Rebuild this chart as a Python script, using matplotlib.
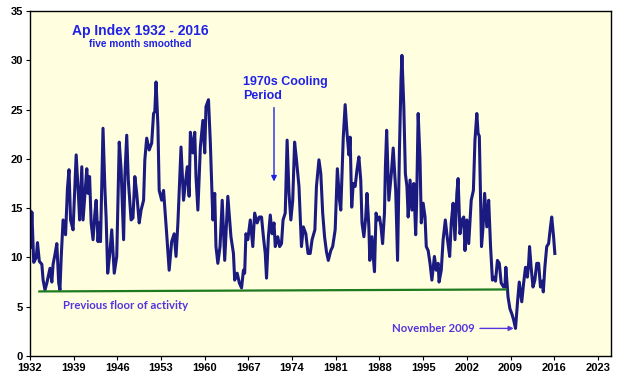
import matplotlib
matplotlib.use("Agg")
import matplotlib.pyplot as plt

# ---- data (year, Ap index five-month smoothed) ----
years = [
    1932.0, 1932.1, 1932.3, 1932.6, 1933.0, 1933.2, 1933.5, 1933.9, 1934.1, 1934.4,
    1934.7, 1935.2, 1935.5, 1935.7, 1936.0, 1936.3, 1936.6, 1936.8, 1937.0, 1937.3,
    1937.7, 1938.0, 1938.25, 1938.5, 1938.9, 1939.4, 1939.8, 1939.95, 1940.3, 1940.5,
    1941.1, 1941.3, 1941.55, 1941.8, 1942.1, 1942.4, 1942.6, 1942.9, 1943.1, 1943.3,
    1943.7, 1944.0, 1944.2, 1944.45, 1944.8, 1945.1, 1945.5, 1945.9, 1946.3, 1946.6,
    1947.0, 1947.2, 1947.5, 1947.75, 1948.2, 1948.5, 1948.8, 1949.1, 1949.5, 1949.8,
    1950.2, 1950.4, 1950.7, 1951.1, 1951.5, 1951.8, 1952.0, 1952.2, 1952.5, 1952.7,
    1953.1, 1953.4, 1953.9, 1954.3, 1954.7, 1955.1, 1955.4, 1955.7, 1956.2, 1956.6,
    1957.2, 1957.5, 1957.7, 1958.1, 1958.4, 1958.6, 1958.9, 1959.3, 1959.7, 1960.0,
    1960.2, 1960.6, 1960.9, 1961.3, 1961.6, 1961.8, 1962.1, 1962.45, 1962.8, 1963.2,
    1963.7, 1964.2, 1964.6, 1964.8, 1965.2, 1965.55, 1965.9, 1966.2, 1966.4, 1966.6,
    1966.9, 1967.3, 1967.7, 1968.0, 1968.4, 1968.75, 1969.1, 1969.4, 1969.7, 1969.9,
    1970.2, 1970.5, 1970.8, 1971.1, 1971.3, 1971.7, 1972.0, 1972.3, 1972.55, 1972.9,
    1973.2, 1973.5, 1973.8, 1974.1, 1974.4, 1974.7, 1975.1, 1975.5, 1975.8, 1976.2,
    1976.55, 1976.9, 1977.2, 1977.65, 1977.9, 1978.3, 1978.6, 1978.9, 1979.2, 1979.5,
    1979.8, 1980.2, 1980.5, 1980.9, 1981.25, 1981.6, 1981.8, 1982.2, 1982.5, 1982.8,
    1983.1, 1983.3, 1983.55, 1983.8, 1984.1, 1984.4, 1984.7, 1985.0, 1985.2, 1985.5,
    1985.8, 1986.0, 1986.3, 1986.45, 1986.8, 1987.0, 1987.2, 1987.45, 1987.7, 1988.0,
    1988.25, 1988.5, 1988.8, 1988.95, 1989.15, 1989.5, 1989.9, 1990.2, 1990.6, 1990.9,
    1991.2, 1991.45, 1991.6, 1991.9, 1992.15, 1992.4, 1992.6, 1992.9, 1993.2, 1993.5,
    1993.8, 1993.95, 1994.2, 1994.5, 1994.7, 1995.0, 1995.3, 1995.5, 1995.8, 1996.1,
    1996.4, 1996.8, 1997.1, 1997.4, 1997.55, 1997.9, 1998.2, 1998.55, 1998.9, 1999.25,
    1999.5, 1999.8, 2000.1, 2000.4, 2000.6, 2000.9, 2001.2, 2001.5, 2001.7, 2002.0,
    2002.3, 2002.7, 2003.05, 2003.3, 2003.6, 2003.8, 2004.0, 2004.2, 2004.35, 2004.6,
    2004.85, 2005.2, 2005.5, 2005.8, 2006.1, 2006.4, 2006.6, 2006.9, 2007.2, 2007.5,
    2007.9, 2008.1, 2008.25, 2008.6, 2008.9, 2009.2, 2009.5, 2009.8, 2010.15, 2010.4,
    2010.8, 2011.1, 2011.4, 2011.7, 2011.9, 2012.05, 2012.3, 2012.6, 2012.9, 2013.2,
    2013.5, 2013.8, 2014.1, 2014.25, 2014.5, 2014.8, 2015.1, 2015.4, 2015.6, 2015.9,
    2016.1,
]
ap_index = [
    14.7, 11.0, 14.6, 9.5, 10.0, 11.5, 9.6, 9.3, 7.7, 6.7,
    7.4, 8.9, 7.5, 9.3, 10.3, 11.4, 7.4, 6.7, 10.0, 13.8,
    12.3, 17.0, 18.9, 13.8, 12.8, 20.4, 15.8, 13.8, 19.2, 13.8,
    19.0, 16.5, 18.2, 13.5, 11.8, 14.5, 15.8, 11.6, 13.5, 11.6,
    23.1, 17.0, 14.0, 8.4, 10.5, 12.8, 8.4, 10.1, 21.7, 18.9,
    11.8, 18.2, 22.4, 17.85, 13.8, 14.0, 18.2, 16.5, 13.5, 14.8,
    15.8, 19.9, 22.1, 20.9, 21.6, 24.6, 24.8, 27.8, 23.3, 16.8,
    15.8, 16.8, 12.4, 8.7, 11.6, 12.4, 10.1, 13.5, 21.2, 15.8,
    19.2, 16.2, 22.7, 20.6, 22.7, 18.2, 14.8, 21.2, 23.9, 20.6,
    25.3, 26.0, 21.6, 13.8, 16.5, 11.1, 9.4, 11.1, 15.8, 9.7,
    16.2, 12.1, 10.4, 7.7, 8.4, 7.4, 6.9, 8.7, 8.4, 12.4,
    11.8, 13.8, 11.1, 14.5, 13.5, 14.1, 14.1, 12.1, 10.4, 7.9,
    12.1, 14.3, 12.4, 13.5, 11.1, 12.1, 11.1, 11.4, 13.8, 14.5,
    21.9, 16.5, 13.8, 15.8, 21.7, 19.9, 17.2, 11.1, 13.1, 12.4,
    10.4, 10.4, 11.8, 12.8, 17.2, 19.9, 18.5, 14.5, 12.1, 10.6,
    9.7, 10.7, 11.1, 12.8, 19.0, 15.8, 14.8, 22.2, 25.5, 22.6,
    20.4, 22.2, 15.1, 17.5, 17.2, 18.9, 20.2, 17.85, 13.5, 12.1,
    14.1, 16.5, 13.1, 9.7, 12.1, 10.1, 8.55, 14.5, 13.8, 14.1,
    13.1, 11.4, 14.5, 19.2, 22.9, 15.8, 18.5, 21.1, 16.8, 9.7,
    20.9, 28.0, 30.5, 25.3, 18.5, 17.2, 14.1, 17.85, 14.8, 17.5,
    12.3, 15.5, 24.6, 19.9, 13.5, 15.5, 14.1, 11.1, 10.7, 9.4,
    7.7, 10.1, 8.7, 9.4, 7.5, 8.7, 11.8, 13.8, 11.8, 10.1,
    13.5, 15.5, 11.8, 16.5, 18.0, 12.4, 13.8, 14.1, 10.7, 13.8,
    11.4, 15.8, 16.8, 21.9, 24.6, 22.6, 22.3, 15.8, 11.1, 13.1,
    16.5, 13.1, 15.8, 11.1, 7.7, 8.0, 7.6, 9.7, 9.4, 7.4,
    7.0, 7.0, 9.0, 6.0, 4.8, 4.3, 3.65, 2.8, 5.7, 7.5,
    5.5, 7.4, 9.0, 8.0, 9.4, 11.1, 9.0, 7.0, 7.7, 9.4,
    9.4, 7.0, 7.6, 6.5, 9.0, 11.1, 11.4, 13.1, 14.1, 12.1,
    10.4,
]

floor_years = [1933.5, 2008.3]
floor_values = [6.55, 6.75]

x_ticks = [1932, 1939, 1946, 1953, 1960, 1967, 1974, 1981, 1988, 1995, 2002, 2009, 2016, 2023]
y_ticks = [0, 5, 10, 15, 20, 25, 30, 35]

# ---- figure ----
fig = plt.figure(figsize=(6.25, 3.83), dpi=100)
ax = fig.add_axes([0.048, 0.0705, 0.9296, 0.9008])
ax.set_facecolor("#FFFFE0")

ax.plot(years, ap_index, color="#1A1A80", lw=2.2, solid_joinstyle="round")
ax.plot(floor_years, floor_values, color="#1E7A1E", lw=1.6)

ax.set_xlim(1932, 2025.1)
ax.set_ylim(0, 35)
ax.set_xticks(x_ticks)
ax.set_yticks(y_ticks)
tick_font = dict(family="Liberation Sans", weight="bold", size=8)
ax.set_xticklabels([str(t) for t in x_ticks], fontdict=tick_font)
ax.set_yticklabels([str(t) for t in y_ticks], fontdict=tick_font)
ax.tick_params(direction="out", length=3, width=0.8, pad=2)
for s in ax.spines.values():
    s.set_linewidth(1.0)
    s.set_color("black")

blue = "#2121E6"
purple = "#5533DD"
ax.text(1949.6, 33.0, "Ap Index 1932 - 2016", ha="center", va="center",
        family="Liberation Sans", weight="bold", size=10, color=blue)
ax.text(1949.6, 31.7, "five month smoothed", ha="center", va="center",
        family="Liberation Sans", weight="bold", size=7.3, color=blue)
ax.text(1966.1, 27.8, "1970s Cooling", ha="left", va="center",
        family="Liberation Sans", weight="bold", size=9, color=blue)
ax.text(1966.1, 26.4, "Period", ha="left", va="center",
        family="Liberation Sans", weight="bold", size=9, color=blue)
ax.annotate("", xy=(1971.1, 17.7), xytext=(1971.1, 25.2),
            arrowprops=dict(arrowstyle="-|>", color=blue, lw=1.0,
                            mutation_scale=8, shrinkA=0, shrinkB=0))
ax.text(1937.3, 5.15, "Previous floor of activity", ha="left", va="center",
        family="Lato", weight="bold", size=8.2, color=purple)
ax.text(1990.0, 2.75, "November 2009", ha="left", va="center",
        family="Lato", weight="bold", size=8.2, color=purple)
ax.annotate("", xy=(2009.5, 2.8), xytext=(2004.1, 2.8),
            arrowprops=dict(arrowstyle="-|>", color=purple, lw=1.0,
                            mutation_scale=7, shrinkA=0, shrinkB=0))

fig.savefig("out.png", dpi=100, facecolor="white")
